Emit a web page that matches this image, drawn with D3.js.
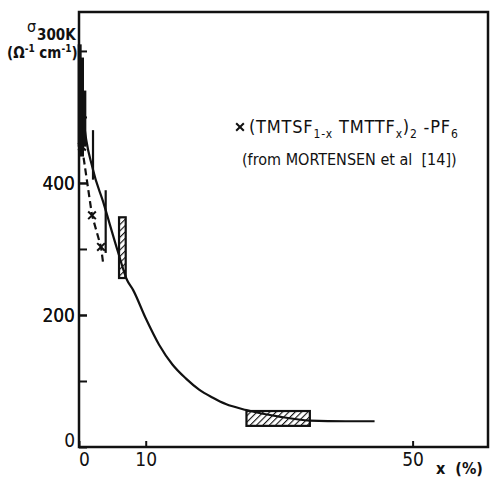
<!DOCTYPE html>
<html>
<head>
<meta charset="utf-8">
<script src="https://cdn.jsdelivr.net/npm/d3@7"></script>
<style>
  body { margin: 0; background: #fff; }
  text { font-family: "Liberation Sans Narrow", "DejaVu Sans Condensed", sans-serif; fill: #111; }
</style>
</head>
<body>
<div id="chart"></div>
<script>
// values
let yTicks = [100, 200, 300, 400, 500, 600];
let yLabels = [0, 200, 400];
let xTicks = [0, 10, 50];

// solid curve (sigma vs x)
let curveX = [0, 0.6, 2.1, 3.6, 5.8, 7.2, 8.1, 10, 12, 14, 16, 18, 20, 22, 25.1, 30, 34.6, 40, 44.3];
let curveY = [600, 505, 420, 372, 297, 253, 238, 195, 155, 125, 104, 87, 75, 65, 56, 46, 40, 39, 39];

// Mortensen et al points (dashed)
let mortX = [0.45, 1.95, 3.3, 3.6];
let mortY = [455, 351, 303, 280];
let mortMarked = [true, true, true, false];

// error bars: x, low, high, thick
let errX = [0.1, 0.45, 0.8, 2.1, 4.0];
let errLo = [455, 440, 455, 405, 294];
let errHi = [610, 590, 540, 480, 389];
let errThick = [true, true, true, false, false];

// hatched boxes: x0, x1, y0, y1
let boxX0 = [6.0, 25.1];
let boxX1 = [7.0, 34.6];
let boxY0 = [256, 32];
let boxY1 = [348, 54.5];

let W = 490, H = 477;

let svg = d3.select("#chart")
  .append("svg")
  .attr("width", W)
  .attr("height", H);

let x = d3.scaleLinear().domain([0, 61.3]).range([79, 488]);
let y = d3.scaleLinear().domain([0, 659]).range([447, 12]);

// hatch pattern
svg.append("defs")
  .append("pattern")
  .attr("id", "hatch")
  .attr("patternUnits", "userSpaceOnUse")
  .attr("width", 4.5)
  .attr("height", 4.5)
  .attr("patternTransform", "rotate(45)")
  .append("line")
  .attr("x1", 0).attr("y1", 0)
  .attr("x2", 0).attr("y2", 4.5)
  .attr("stroke", "#111")
  .attr("stroke-width", 2.2);

// frame
svg.append("rect")
  .attr("x", x(0))
  .attr("y", y(659))
  .attr("width", x(61.3) - x(0))
  .attr("height", y(0) - y(659))
  .attr("fill", "none")
  .attr("stroke", "#111")
  .attr("stroke-width", 2.5);

// y axis, ticks pointing inside
let yAxis = svg.append("g")
  .attr("transform", "translate(" + x(0) + ",0)")
  .call(d3.axisLeft(y).tickValues(yLabels.concat(yTicks))
    .tickSize(-8).tickPadding(4)
    .tickFormat(d => yLabels.includes(d) ? d : ""));
yAxis.select(".domain").remove();
yAxis.selectAll("line").attr("stroke", "#111").attr("stroke-width", 2);
yAxis.selectAll("text").attr("font-size", 19).attr("fill", "#111")
  .attr("dy", d => d == 0 ? "-0.05em" : "0.36em");

// x axis
let xAxis = svg.append("g")
  .attr("transform", "translate(0," + y(0) + ")")
  .call(d3.axisBottom(x).tickValues(xTicks).tickSize(-6).tickPadding(6));
xAxis.select(".domain").remove();
xAxis.selectAll("line").attr("stroke", "#111").attr("stroke-width", 2);
xAxis.selectAll("text").attr("font-size", 19).attr("fill", "#111")
  .attr("dx", d => d == 0 ? 5 : 0);

svg.append("text")
  .attr("x", 436).attr("y", 474)
  .attr("font-size", 16)
  .attr("font-weight", "bold")
  .attr("xml:space", "preserve")
  .text("x  (%)");

// axis title
svg.append("text").attr("x", 27).attr("y", 32).attr("font-size", 16).text("σ");
svg.append("text").attr("x", 37).attr("y", 40).attr("font-size", 15).attr("font-weight", "bold").text("300K");
let unit = svg.append("text").attr("x", 7).attr("y", 58).attr("font-size", 15).attr("font-weight", "bold");
unit.append("tspan").text("(Ω");
unit.append("tspan").attr("font-size", 10).attr("dy", -6).text("-1");
unit.append("tspan").attr("dy", 6).text(" cm");
unit.append("tspan").attr("font-size", 10).attr("dy", -6).text("-1");
unit.append("tspan").attr("dy", 6).text(")");

// solid curve
let curvePts = curveX.map((d, i) => [d, curveY[i]]);
svg.append("path")
  .datum(curvePts)
  .attr("fill", "none")
  .attr("stroke", "#111")
  .attr("stroke-width", 2.2)
  .attr("d", d3.line().x(d => x(d[0])).y(d => y(d[1])).curve(d3.curveMonotoneX));

// error bars
svg.selectAll(".err")
  .data(errX)
  .enter()
  .append("line")
  .attr("class", "err")
  .attr("x1", d => x(d)).attr("x2", d => x(d))
  .attr("y1", (d, i) => y(errLo[i]))
  .attr("y2", (d, i) => y(errHi[i]))
  .attr("stroke", "#111")
  .attr("stroke-width", (d, i) => errThick[i] ? 4 : 2.2);

// dashed Mortensen line
let mortPts = mortX.map((d, i) => [d, mortY[i]]);
svg.append("path")
  .datum(mortPts)
  .attr("fill", "none")
  .attr("stroke", "#111")
  .attr("stroke-width", 2.2)
  .attr("stroke-dasharray", "7,4")
  .attr("d", d3.line().x(d => x(d[0])).y(d => y(d[1])));

svg.selectAll(".mark")
  .data(mortPts.filter((d, i) => mortMarked[i]))
  .enter()
  .append("path")
  .attr("class", "mark")
  .attr("transform", d => "translate(" + x(d[0]) + "," + y(d[1]) + ")")
  .attr("d", d3.symbol(d3.symbolTimes, 40))
  .attr("fill", "none")
  .attr("stroke", "#111")
  .attr("stroke-width", 2);

// hatched boxes
svg.selectAll(".box")
  .data(boxX0)
  .enter()
  .append("rect")
  .attr("class", "box")
  .attr("x", d => x(d))
  .attr("y", (d, i) => y(boxY1[i]))
  .attr("width", (d, i) => x(boxX1[i]) - x(d))
  .attr("height", (d, i) => y(boxY0[i]) - y(boxY1[i]))
  .attr("fill", "url(#hatch)")
  .attr("stroke", "#111")
  .attr("stroke-width", 2.2);

// legend
svg.append("path")
  .attr("transform", "translate(240,127)")
  .attr("d", d3.symbol(d3.symbolTimes, 40))
  .attr("fill", "none")
  .attr("stroke", "#111")
  .attr("stroke-width", 2);
let leg = svg.append("text").attr("x", 249).attr("y", 133)
  .attr("font-size", 18).attr("letter-spacing", 0.8);
leg.append("tspan").text("(TMTSF");
leg.append("tspan").attr("font-size", 12).attr("dy", 5).text("1-x");
leg.append("tspan").attr("dy", -5).text(" TMTTF");
leg.append("tspan").attr("font-size", 12).attr("dy", 5).text("x");
leg.append("tspan").attr("dy", -5).text(")");
leg.append("tspan").attr("font-size", 12).attr("dy", 5).text("2");
leg.append("tspan").attr("dy", -5).text(" -PF");
leg.append("tspan").attr("font-size", 12).attr("dy", 5).text("6");

svg.append("text")
  .attr("x", 242).attr("y", 165)
  .attr("font-size", 16)
  .attr("xml:space", "preserve")
  .text("(from MORTENSEN et al  [14])");
</script>
</body>
</html>
